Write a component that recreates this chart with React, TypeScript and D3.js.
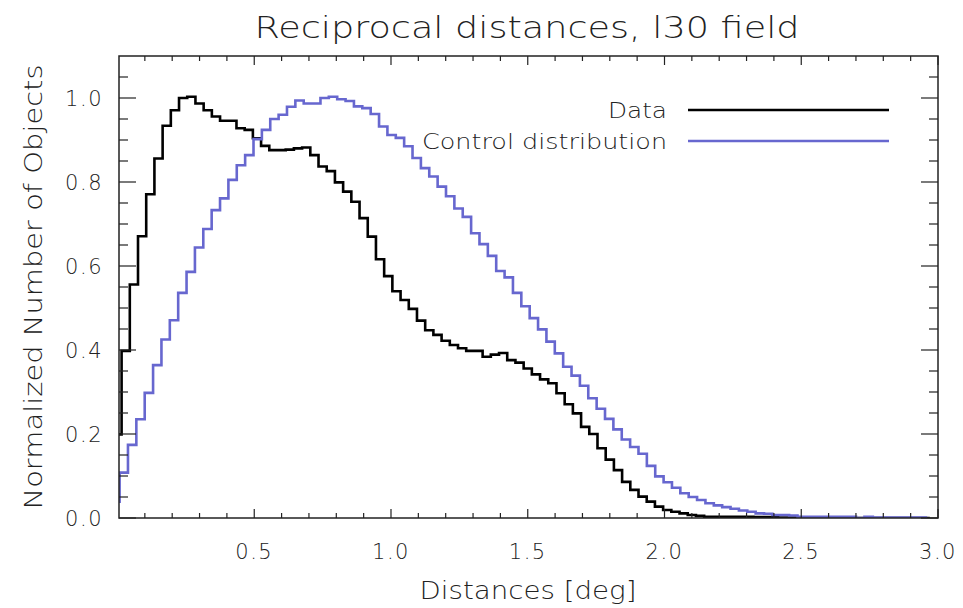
import React, { useEffect } from 'react';
import * as d3 from 'd3';

// Histogram values (normalized)
const DATA_VALUES = [
  0.199, 0.398, 0.556, 0.671, 0.771, 0.856, 0.934, 0.971, 1.0, 1.003,
  0.987, 0.971, 0.956, 0.946, 0.946, 0.928, 0.924, 0.904, 0.886, 0.876,
  0.876, 0.877, 0.88, 0.882, 0.864, 0.837, 0.826, 0.799, 0.777, 0.753,
  0.714, 0.67, 0.616, 0.576, 0.54, 0.519, 0.498, 0.47, 0.447, 0.436,
  0.422, 0.412, 0.404, 0.398, 0.398, 0.384, 0.389, 0.393, 0.376, 0.37,
  0.356, 0.342, 0.33, 0.321, 0.297, 0.271, 0.249, 0.217, 0.2, 0.166,
  0.139, 0.114, 0.086, 0.067, 0.051, 0.039, 0.027, 0.019, 0.015, 0.011,
  0.007, 0.005, 0.003, 0.003, 0.003, 0.003, 0.003, 0.003, 0.002, 0.002,
  0.002, 0.001, 0.001, 0.001, 0.001, 0.0, 0.0, 0.0, 0.0, 0.0,
  0.0, 0.0, 0.0, 0.0, 0.0, 0.0, 0.0, 0.0, 0.0, 0.0,
];
const CONTROL_VALUES = [
  0.039, 0.108, 0.174, 0.235, 0.298, 0.364, 0.425, 0.471, 0.536, 0.586,
  0.644, 0.688, 0.733, 0.761, 0.805, 0.84, 0.864, 0.902, 0.924, 0.95,
  0.96, 0.979, 0.994, 0.987, 0.987, 1.0, 1.003, 0.997, 0.993, 0.98,
  0.976, 0.962, 0.932, 0.912, 0.905, 0.885, 0.857, 0.833, 0.813, 0.789,
  0.766, 0.737, 0.717, 0.678, 0.652, 0.624, 0.588, 0.573, 0.536, 0.504,
  0.476, 0.449, 0.42, 0.392, 0.36, 0.339, 0.315, 0.285, 0.26, 0.236,
  0.211, 0.187, 0.169, 0.153, 0.124, 0.099, 0.085, 0.072, 0.059, 0.05,
  0.043, 0.035, 0.03, 0.026, 0.022, 0.018, 0.015, 0.011, 0.01, 0.007,
  0.007, 0.006, 0.003, 0.003, 0.003, 0.003, 0.003, 0.003, 0.003, 0.0,
  0.003, 0.001, 0.001, 0.001, 0.001, 0.001, 0.001, 0.001,
];
// Bin centres: start + i * width (deg)
const DATA_BIN_START = 0.0;
const DATA_BIN_WIDTH = 0.03;
const CONTROL_BIN_START = -0.0076;
const CONTROL_BIN_WIDTH = 0.0306;

const X_MAJOR = [0.5, 1.0, 1.5, 2.0, 2.5, 3.0];
const X_LABELS = ['0.5', '1.0', '1.5', '2.0', '2.5', '3.0'];
const Y_MAJOR = [0.0, 0.2, 0.4, 0.6, 0.8, 1.0];
const Y_LABELS = ['0.0', '0.2', '0.4', '0.6', '0.8', '1.0'];
const X_MINOR_STEP = 0.1;
const Y_MINOR_STEP = 0.05;

const SERIES_NAMES = ['Data', 'Control distribution'];
const TITLE = 'Reciprocal distances, l30 field';
const X_TITLE = 'Distances [deg]';
const Y_TITLE = 'Normalized Number of Objects';

const FONT = "'DejaVu Sans', sans-serif";
const BLUE = '#6767cf';

export default function App() {
  useEffect(() => {
    document.body.style.margin = '0';
  }, []);
  const W = 963, H = 608;
  const L = 119, R = 938, T = 56, B = 518;
  const x = d3.scaleLinear().domain([0.0055, 3.0]).range([L, R]);
  const y = d3.scaleLinear().domain([0, 1.1]).range([B, T]);
  const line = d3
    .line<[number, number]>()
    .x((d) => x(d[0]))
    .y((d) => y(d[1]))
    .curve(d3.curveStep);

  const dataPts: [number, number][] = DATA_VALUES.map((v, i) => [DATA_BIN_START + i * DATA_BIN_WIDTH, v]);
  const ctrlPts: [number, number][] = CONTROL_VALUES.map((v, i) => [CONTROL_BIN_START + i * CONTROL_BIN_WIDTH, v]);

  const xMinor = d3.range(1, 30).map((i) => i * X_MINOR_STEP).filter((v) => Math.abs(v * 2 - Math.round(v * 2)) > 1e-6);
  const yMinor = d3.range(1, 22).map((i) => i * Y_MINOR_STEP).filter((v) => Math.abs(v * 5 - Math.round(v * 5)) > 1e-6);

  const axisColor = '#222';
  const textColor = '#222';

  return (
    <svg width={W} height={H} style={{ position: 'absolute', left: 0, top: 0, background: '#fff' }}>
      <defs>
        <clipPath id="plotClip">
          <rect x={L} y={T} width={R - L} height={B - T} />
        </clipPath>
      </defs>
      <rect x={0} y={0} width={W} height={H} fill="#fff" />
      {/* title */}
      <text x={527} y={38} textAnchor="middle" fontFamily={FONT} fontSize={31} fontWeight={300}
        fill={textColor} textLength={545} lengthAdjust="spacingAndGlyphs">{TITLE}</text>

      {/* series */}
      <g clipPath="url(#plotClip)">
        <path d={line(dataPts) || ''} fill="none" stroke="#000" strokeWidth={2.6} />
        <path d={line(ctrlPts) || ''} fill="none" stroke={BLUE} strokeWidth={2.6} />
      </g>

      {/* frame */}
      <rect x={L} y={T} width={R - L} height={B - T} fill="none" stroke={axisColor} strokeWidth={1.5} />

      {/* x ticks bottom & top */}
      {X_MAJOR.map((v) => (
        <g key={'xm' + v}>
          <line x1={x(v)} x2={x(v)} y1={B} y2={B - 9} stroke={axisColor} strokeWidth={1.2} />
          <line x1={x(v)} x2={x(v)} y1={T} y2={T + 9} stroke={axisColor} strokeWidth={1.2} />
        </g>
      ))}
      {xMinor.map((v) => (
        <g key={'xn' + v}>
          <line x1={x(v)} x2={x(v)} y1={B} y2={B - 5} stroke={axisColor} strokeWidth={1.2} />
          <line x1={x(v)} x2={x(v)} y1={T} y2={T + 5} stroke={axisColor} strokeWidth={1.2} />
        </g>
      ))}
      {/* y ticks left & right */}
      {Y_MAJOR.map((v) => (
        <g key={'ym' + v}>
          <line x1={L} x2={L + 17} y1={y(v)} y2={y(v)} stroke={axisColor} strokeWidth={1.2} />
          <line x1={R} x2={R - 17} y1={y(v)} y2={y(v)} stroke={axisColor} strokeWidth={1.2} />
        </g>
      ))}
      {yMinor.map((v) => (
        <g key={'yn' + v}>
          <line x1={L} x2={L + 9} y1={y(v)} y2={y(v)} stroke={axisColor} strokeWidth={1.2} />
          <line x1={R} x2={R - 9} y1={y(v)} y2={y(v)} stroke={axisColor} strokeWidth={1.2} />
        </g>
      ))}

      {/* tick labels */}
      {X_MAJOR.map((v, i) => (
        <text key={'xl' + v} x={x(v)} y={559} textAnchor="middle" fontFamily={FONT} fontSize={21}
          fontWeight={300} fill={textColor} letterSpacing={1.5}>{X_LABELS[i]}</text>
      ))}
      {Y_MAJOR.map((v, i) => (
        <text key={'yl' + v} x={103} y={y(v) + 8} textAnchor="end" fontFamily={FONT} fontSize={21}
          fontWeight={300} fill={textColor} letterSpacing={1.5}>{Y_LABELS[i]}</text>
      ))}

      {/* axis titles */}
      <text x={528} y={599} textAnchor="middle" fontFamily={FONT} fontSize={25} fontWeight={300}
        fill={textColor} textLength={217} lengthAdjust="spacingAndGlyphs">{X_TITLE}</text>
      <text transform="translate(42,287) rotate(-90)" textAnchor="middle" fontFamily={FONT} fontSize={25}
        fontWeight={300} fill={textColor} textLength={445} lengthAdjust="spacingAndGlyphs">{Y_TITLE}</text>

      {/* legend */}
      <text x={667} y={118} textAnchor="end" fontFamily={FONT} fontSize={22} fontWeight={300}
        fill={textColor} textLength={59} lengthAdjust="spacingAndGlyphs">{SERIES_NAMES[0]}</text>
      <line x1={688} x2={889} y1={110} y2={110} stroke="#000" strokeWidth={2.6} />
      <text x={667} y={149} textAnchor="end" fontFamily={FONT} fontSize={22} fontWeight={300}
        fill={textColor} textLength={245} lengthAdjust="spacingAndGlyphs">{SERIES_NAMES[1]}</text>
      <line x1={688} x2={889} y1={141} y2={141} stroke={BLUE} strokeWidth={2.6} />
    </svg>
  );
}
